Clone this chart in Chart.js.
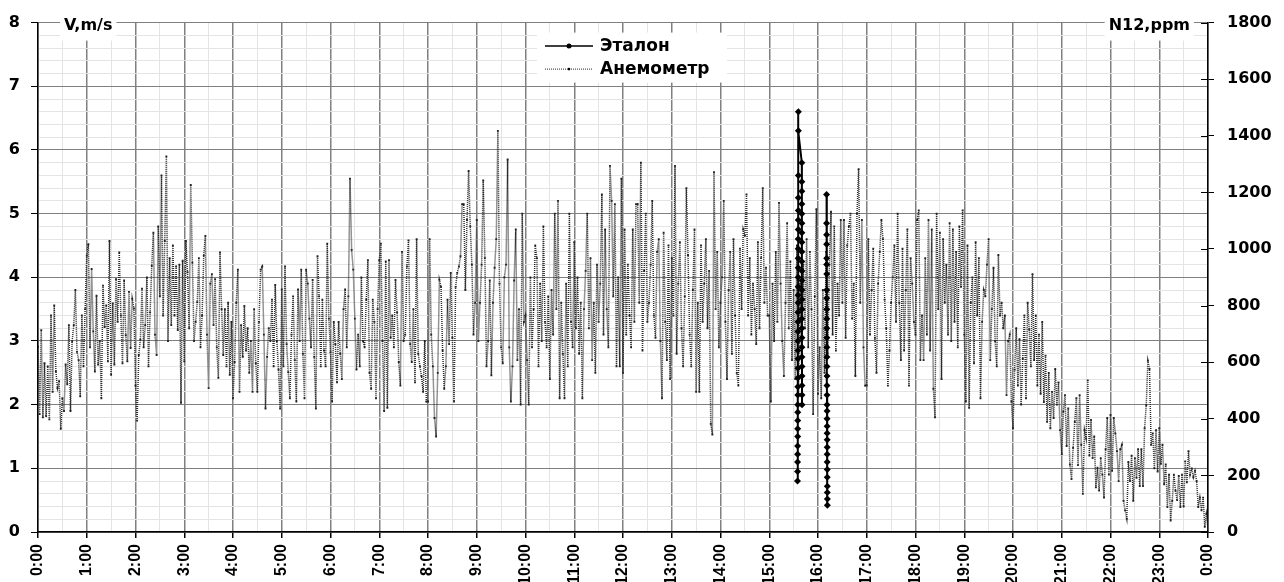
<!DOCTYPE html>
<html>
<head>
<meta charset="utf-8">
<script src="https://cdn.jsdelivr.net/npm/chart.js@4.4.1/dist/chart.umd.min.js"></script>
<style>
  html, body { margin: 0; padding: 0; background: #fff; }
  canvas { display: block; }
</style>
</head>
<body>
<canvas id="chart" width="1284" height="582"></canvas>
<script>
// Анемометр: отсчёты каждые 2 минуты, по одному массиву на час (V, m/s)
const h00 = [2.91,1.85,3.17,1.8,2.65,1.82,2.6,1.77,3.4,2.2,3.56,2.52,2.26,2.37,1.62,2.1,1.9,2.63,2.32,3.25,1.9,2.99,3.25,3.8,2.83,2.7,2.13,3.4,2.6,3.5];
const h01 = [4.34,4.52,2.9,4.13,3.15,2.52,3.71,2.63,3.0,2.1,3.87,3.22,3.56,2.68,4.57,2.47,3.59,2.63,3.97,3.3,4.39,3.4,2.65,3.95,3.09,2.68,3.77,2.89,3.66,3.51];
const h02 = [2.3,1.75,2.78,3.02,3.82,2.9,3.25,4.0,2.6,3.45,4.18,4.7,3.1,2.78,4.8,3.7,5.6,3.4,4.57,5.9,3.0,4.3,3.25,4.5,3.4,4.17,3.17,4.2,2.03,4.26];
const h03 = [2.68,4.57,4.08,3.2,5.45,4.23,3.0,3.3,3.61,4.3,2.9,3.4,4.34,4.65,3.1,2.26,3.9,4.05,3.25,3.97,2.9,2.42,4.39,3.5,2.78,3.5,2.6,3.6,2.47,3.3];
const h04 = [2.1,2.67,3.6,4.12,2.2,3.25,2.75,3.55,2.85,3.2,2.5,3.0,2.2,3.5,2.65,2.2,3.3,4.12,4.17,3.1,1.94,2.75,3.2,3.0,3.65,2.6,3.88,3.0,2.55,1.94];
const h05 = [3.81,2.6,4.17,2.95,2.51,2.1,3.1,3.7,2.7,2.05,3.81,3.0,4.12,2.8,2.1,4.12,3.9,3.35,2.9,3.96,2.75,1.94,4.33,3.7,2.6,3.65,2.85,2.6,4.53,3.35];
const h06 = [2.82,2.05,3.3,2.95,2.35,3.3,2.8,2.4,3.5,3.81,2.9,3.7,5.55,4.43,4.12,3.35,2.55,3.1,2.6,4.0,3.0,2.9,3.65,4.27,2.5,2.25,3.65,3.3,2.1,3.5];
const h07 = [4.27,4.53,3.0,1.9,4.25,1.95,4.27,3.05,3.4,2.9,3.96,3.45,2.67,2.3,4.4,3.0,3.1,4.17,4.58,2.95,2.67,3.5,2.35,4.6,2.8,2.6,2.45,2.2,3.0,2.05];
const h08 = [2.05,4.6,3.1,2.6,1.79,1.5,2.5,3.96,3.85,2.85,2.25,2.6,3.65,2.95,4.07,3.05,2.05,3.85,4.07,4.17,4.33,5.15,5.15,3.8,4.9,5.67,4.8,4.2,3.1,3.6];
const h09 = [4.9,3.0,3.6,4.2,5.52,4.3,2.6,3.0,3.95,2.46,3.6,4.15,4.6,6.3,3.9,2.9,2.65,4.0,4.2,5.85,2.9,2.05,2.6,3.95,4.75,2.7,3.5,2.0,5.0,3.3];
const h10 = [3.4,2.7,2.0,4.0,2.9,3.5,4.5,4.3,2.6,3.9,3.0,4.8,3.3,2.9,3.7,2.4,3.8,3.1,5.0,3.5,5.2,2.1,3.6,2.8,2.1,3.9,2.6,5.0,3.3,2.9];
const h11 = [4.55,3.2,4.0,2.8,3.6,2.1,3.5,4.1,5.0,3.2,4.3,2.7,3.6,2.5,4.2,3.3,3.9,5.3,3.1,4.75,3.5,2.9,5.75,5.2,3.7,5.15,2.6,4.0,2.6,5.55];
const h12 = [2.5,4.75,3.1,4.2,3.4,2.9,4.75,3.3,5.15,5.15,3.6,5.8,2.85,4.1,5.0,3.3,3.6,4.2,5.2,3.4,3.05,4.4,4.6,3.0,2.1,4.7,3.3,2.7,4.5,2.4];
const h13 = [4.3,3.4,5.75,2.8,3.9,4.55,3.2,2.6,3.7,5.4,4.35,3.1,2.6,3.8,4.75,2.2,3.6,2.2,4.5,3.3,3.9,4.6,3.2,4.1,1.7,1.53,5.65,3.5,4.4,2.9];
const h14 = [3.6,4.0,5.2,3.3,2.4,3.8,4.4,2.8,4.6,3.4,2.5,2.3,4.45,3.5,4.75,4.65,5.3,3.4,4.3,3.1,3.9,3.5,2.95,4.55,3.2,4.3,5.4,3.6,4.15,3.4];
const h15 = [3.4,2.05,3.9,3.0,4.4,3.3,5.17,3.9,3.0,2.45,3.6,4.85,3.2,4.25,2.7,3.8,2.4,4.5,2.15,3.9,2.6,4.2,3.2,4.6,2.9,4.4,3.5,1.85,3.7,5.07];
const h16 = [2.17,2.9,2.1,3.8,2.5,4.4,2.8,4.2,5.03,3.1,4.8,2.85,3.9,3.4,4.9,3.6,4.9,3.05,4.5,4.8,5.0,3.35,3.9,2.45,5.0,5.7,3.6,4.9,2.9,2.3];
const h17 = [2.3,4.6,3.1,3.8,4.45,3.05,2.5,3.9,4.4,4.9,4.6,3.65,3.2,2.3,2.85,3.6,4.0,4.5,3.3,5.0,3.6,2.7,4.45,2.85,3.8,4.75,2.3,4.3,3.9,3.3];
const h18 = [3.1,4.9,5.05,2.7,3.4,2.7,4.3,3.1,4.9,2.85,4.75,2.25,1.8,5.0,3.5,4.7,2.4,4.6,3.6,4.2,3.1,4.85,3.0,4.75,3.3,4.4,2.9,4.8,3.85,5.05];
const h19 = [3.1,2.05,4.5,1.95,3.6,4.0,2.65,4.55,3.4,4.3,2.1,3.3,3.8,3.7,4.2,4.6,2.7,3.5,4.15,3.0,2.6,4.35,3.4,3.6,3.2,3.4,2.15,3.0,3.1,2.05];
const h20 = [1.63,2.55,3.2,2.3,3.03,2.0,2.72,3.4,2.1,3.6,3.18,2.6,4.05,2.7,3.4,2.3,3.1,2.17,3.3,2.04,2.77,1.73,2.5,1.63,2.2,1.79,2.56,2.0,2.35,1.6];
const h21 = [1.22,1.89,2.15,1.35,1.94,1.06,0.83,1.32,1.73,2.1,1.05,2.15,1.37,0.6,1.6,1.47,2.38,1.2,1.76,1.16,1.5,0.7,1.01,0.65,1.16,0.9,0.54,1.3,1.79,0.9];
const h22 = [1.84,0.96,1.79,1.55,1.27,0.8,1.3,1.37,0.49,0.34,0.21,1.1,0.8,1.2,0.49,1.16,0.85,1.3,0.72,1.3,0.72,1.63,1.99,2.69,2.56,1.37,1.55,1.0,1.6,0.95];
const h23 = [1.63,1.07,1.37,0.75,1.06,0.39,0.9,0.18,0.49,0.9,0.65,0.5,0.88,0.39,0.9,0.4,1.11,0.78,1.27,0.9,1.0,0.86,0.96,0.8,0.39,0.54,0.34,0.54,0.08,0.28];
const lastValue = 0.05; // 24:00
const hourBlocks = [h00,h01,h02,h03,h04,h05,h06,h07,h08,h09,h10,h11,h12,h13,h14,h15,h16,h17,h18,h19,h20,h21,h22,h23];
const samplesPerHour = 30;

// Эталон: два коротких замера около 15:35 и 16:11 (время в часах, V в m/s)
const etalonTime = [
  15.580,15.581,15.581,15.582,15.582,15.583,15.583,15.584,15.585,15.585,15.586,15.586,15.587,15.587,15.588,15.588,15.589,
  15.589,15.590,15.590,15.591,15.591,15.592,15.592,15.593,15.593,15.594,15.594,15.595,15.595,15.596,15.596,15.597,15.597,15.598,
  15.668,15.668,15.668,15.668,15.668,15.669,15.669,15.669,15.669,15.669,15.670,15.670,15.670,15.670,15.670,15.671,15.671,
  15.671,15.671,15.671,15.672,15.672,15.672,15.672,15.672,
  15.900,
  16.176,16.176,16.177,16.177,16.178,16.178,16.179,16.179,16.180,16.180,16.181,16.181,16.182,16.182,16.183,16.183,16.184,
  16.184,16.185,16.185,16.186,16.186,16.187,16.187,16.188,16.188,16.189,16.189,16.190,16.190,16.191,16.191,16.192,16.192
];
const etalonValue = [
  0.8,0.95,1.1,1.22,1.35,1.5,1.62,1.75,1.88,2.0,2.15,2.28,2.42,2.57,2.72,2.85,3.0,
  3.15,3.3,3.45,3.6,3.72,3.85,4.0,4.15,4.3,4.45,4.6,4.75,4.9,5.05,5.25,5.6,6.6,6.3,
  5.8,5.5,5.35,5.15,5.0,4.85,4.7,4.55,4.4,4.25,4.1,3.95,3.8,3.65,3.5,3.35,3.2,
  3.05,2.9,2.75,2.6,2.45,2.3,2.15,2.0,
  null,
  5.3,4.85,4.67,4.52,4.3,4.2,4.05,3.8,3.67,3.5,3.35,3.2,3.05,2.9,2.75,2.6,2.45,
  2.3,2.15,2.0,1.9,1.78,1.66,1.55,1.45,1.33,1.22,1.1,0.98,0.86,0.72,0.62,0.52,0.42
];

const hourLabels = ['0:00','1:00','2:00','3:00','4:00','5:00','6:00','7:00','8:00','9:00','10:00','11:00',
  '12:00','13:00','14:00','15:00','16:00','17:00','18:00','19:00','20:00','21:00','22:00','23:00','0:00'];
const speedMax = 8;
const ppmMax = 1800;

const anemoPoints = [];
hourBlocks.forEach((block, h) => {
  block.forEach((v, i) => anemoPoints.push({ x: h + i / samplesPerHour, y: v }));
});
anemoPoints.push({ x: 24, y: lastValue });

const etalonPoints = etalonTime.map((t, i) => ({ x: t, y: etalonValue[i] }));

const isWhole = v => Math.abs(v - Math.round(v)) < 1e-6;
const MAJOR = '#808080';
const MINOR = '#e4e4e4';
const labelFont = { family: 'DejaVu Sans', weight: 'bold', size: 16 };

// подписи осей, легенда и внутренние риски правой оси
const decor = {
  id: 'decor',
  afterDraw(chart) {
    const { ctx, chartArea: a, scales } = chart;
    ctx.save();

    ctx.strokeStyle = '#000';
    ctx.lineWidth = 1;
    scales.y2.ticks.forEach(t => {
      const py = Math.round(scales.y2.getPixelForValue(t.value)) + 0.5;
      ctx.beginPath();
      ctx.moveTo(a.right - 7, py);
      ctx.lineTo(a.right, py);
      ctx.stroke();
    });

    ctx.font = 'bold 16px "DejaVu Sans"';
    ctx.textBaseline = 'middle';
    ctx.fillStyle = '#000';
    const tag = (text, x, align) => {
      const w = ctx.measureText(text).width;
      const x0 = align === 'left' ? x : x - w;
      ctx.fillStyle = '#fff';
      ctx.fillRect(x0 - 4, a.top - 7, w + 8, 25);
      ctx.fillStyle = '#000';
      ctx.textAlign = 'left';
      ctx.fillText(text, x0, a.top + 3);
    };
    tag('V,m/s', a.left + 26, 'left');
    tag('N12,ppm', a.right - 18, 'right');

    // легенда
    const lx = a.left + 499, ly = a.top + 10;
    ctx.fillStyle = '#fff';
    ctx.fillRect(lx, ly, 190, 50);
    const ds = chart.data.datasets;
    const rows = [ly + 13, ly + 36];
    rows.forEach((y, k) => {
      const d = ds[k];
      ctx.save();
      ctx.strokeStyle = d.borderColor;
      ctx.lineWidth = k === 0 ? 1.5 : 1;
      ctx.setLineDash(d.borderDash || []);
      ctx.beginPath();
      ctx.moveTo(lx + 8, y + 0.5);
      ctx.lineTo(lx + 56, y + 0.5);
      ctx.stroke();
      ctx.restore();
      ctx.fillStyle = '#000';
      ctx.beginPath();
      ctx.arc(lx + 32, y + 0.5, k === 0 ? 2.5 : 1.3, 0, Math.PI * 2);
      ctx.fill();
      ctx.font = 'bold 17px "DejaVu Sans"';
      ctx.textAlign = 'left';
      ctx.fillText(d.label, lx + 63, y + 1);
    });

    ctx.restore();
  }
};

new Chart(document.getElementById('chart'), {
  type: 'line',
  data: {
    datasets: [
      {
        label: 'Эталон',
        data: etalonPoints,
        yAxisID: 'y',
        borderColor: '#000',
        backgroundColor: '#000',
        borderWidth: 2,
        pointStyle: 'rectRot',
        pointRadius: 3.5,
        pointBorderWidth: 0,
        pointBackgroundColor: '#000',
        spanGaps: false
      },
      {
        label: 'Анемометр',
        data: anemoPoints,
        yAxisID: 'y',
        borderColor: '#2a2a2a',
        borderWidth: 1.5,
        borderDash: [1, 1],
        pointStyle: 'rect',
        pointRadius: 1.3,
        pointBorderWidth: 0,
        pointBackgroundColor: '#222'
      }
    ]
  },
  options: {
    responsive: false,
    animation: false,
    events: [],
    layout: { padding: { top: 17, left: 0, right: 0, bottom: 0 } },
    elements: { line: { tension: 0 } },
    plugins: { legend: { display: false }, tooltip: { enabled: false } },
    scales: {
      x: {
        type: 'linear',
        min: 0,
        max: 24,
        afterFit: s => { s.height = 50; },
        border: { display: true, color: '#000', width: 1.5 },
        grid: {
          color: c => (c.tick && isWhole(c.tick.value) ? MAJOR : MINOR),
          lineWidth: c => (c.tick && isWhole(c.tick.value) ? 1.5 : 1),
          tickColor: c => (c.tick && isWhole(c.tick.value) ? '#000' : 'rgba(0,0,0,0)'),
          tickLength: 6
        },
        ticks: {
          stepSize: 0.5,
          autoSkip: false,
          minRotation: 90,
          maxRotation: 90,
          padding: 6,
          color: '#000',
          font: { family: 'Liberation Sans', weight: 'bold', size: 16 },
          callback: v => (isWhole(v) ? hourLabels[Math.round(v)] : '')
        }
      },
      y: {
        position: 'left',
        min: 0,
        max: speedMax,
        afterFit: s => { s.width = 38; },
        border: { display: true, color: '#000', width: 1.5 },
        grid: {
          color: c => (c.tick && isWhole(c.tick.value) ? MAJOR : MINOR),
          tickColor: c => (c.tick && isWhole(c.tick.value) ? '#000' : 'rgba(0,0,0,0)'),
          tickLength: 7
        },
        ticks: {
          stepSize: 0.2,
          autoSkip: false,
          padding: 11,
          color: '#000',
          font: labelFont,
          callback: v => (isWhole(v) ? String(Math.round(v)) : '')
        }
      },
      y2: {
        position: 'right',
        min: 0,
        max: ppmMax,
        afterFit: s => { s.width = 76; },
        border: { display: true, color: '#000', width: 1.5 },
        grid: { drawOnChartArea: false, tickColor: '#000', tickLength: 6 },
        ticks: {
          stepSize: 200,
          autoSkip: false,
          padding: 13,
          color: '#000',
          font: labelFont,
          callback: v => String(v)
        }
      }
    }
  },
  plugins: [decor]
});
</script>
</body>
</html>
